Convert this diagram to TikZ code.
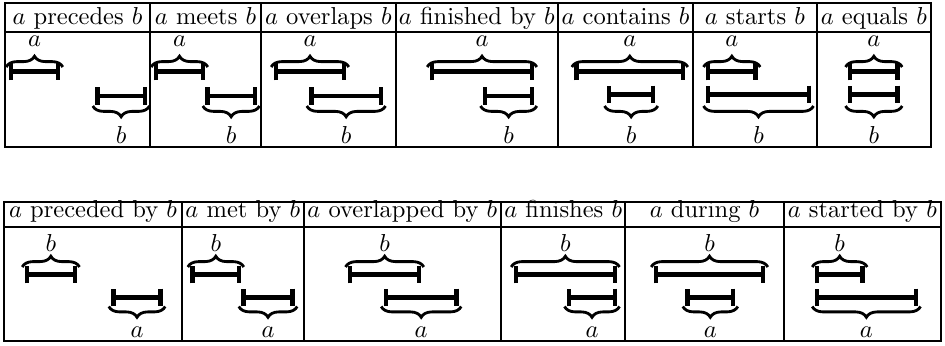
\documentclass[tikz,border=0pt]{standalone}
\usepackage{tikz}
\usetikzlibrary{arrows.meta, decorations.pathreplacing}

\begin{document}
\begin{tikzpicture}[
    x=0.408pt, y=-0.408pt,
    every node/.style={inner sep=0pt},
    grid/.style={line width=0.8pt},
    head/.style={anchor=base},
    ival/.style={line width=1.75pt, {Bar[width=7.2pt]}-{Bar[width=7.2pt]}},
    brace/.style={decorate, decoration={brace, amplitude=4.4pt}, line width=1.15pt},
    uplbl/.style={anchor=base, yshift=8.3pt},
    dnlbl/.style={anchor=base, yshift=-15.5pt},
    uplbl2/.style={anchor=base, yshift=6.25pt},
    dnlbl2/.style={anchor=base, yshift=-12.85pt},
]
\useasboundingbox (0,0) rectangle (945,346);

% === first table: a before / meets / ... / equals b ===
\draw[grid] (5,3) rectangle (931,147);
\draw[grid] (5,32.3) -- (931,32.3);
\draw[grid] (150,3) -- (150,147) (261,3) -- (261,147) (395.7,3) -- (395.7,147)
    (558,3) -- (558,147) (693,3) -- (693,147) (816.7,3) -- (816.7,147);

\node[head] (h1) at (77.5,25) {$a$ precedes $b$};
\node[head] (h2) at (205.5,25) {$a$ meets $b$};
\node[head] (h3) at (328.3,25) {$a$ overlaps $b$};
\node[head] (h4) at (476.8,25) {$a$ finished by $b$};
\node[head] (h5) at (625.5,25) {$a$ contains $b$};
\node[head] (h6) at (754.8,25) {$a$ starts $b$};
\node[head] (h7) at (873.8,25) {$a$ equals $b$};

% precedes
\draw[ival] (8.7,71.5) -- (60.3,71.5);
\draw[ival] (95.3,96) -- (147,96);
\draw[brace] (6.2,67) -- node[uplbl] (la1) {$a$} (62.8,67);
\draw[brace] (149.5,106) -- node[dnlbl] (lb1) {$b$} (92.8,106);

% meets
\draw[ival] (153.7,71.5) -- (205.3,71.5);
\draw[ival] (205.3,96) -- (257,96);
\draw[brace] (151.2,67) -- node[uplbl] (la2) {$a$} (207.8,67);
\draw[brace] (259.5,106) -- node[dnlbl] (lb2) {$b$} (202.8,106);

% overlaps
\draw[ival] (273.7,71.5) -- (346.3,71.5);
\draw[ival] (309.3,96) -- (383,96);
\draw[brace] (271.2,67) -- node[uplbl] (la3) {$a$} (348.8,67);
\draw[brace] (385.5,106) -- node[dnlbl] (lb3) {$b$} (306.8,106);

% finished by
\draw[ival] (429.7,71.5) -- (534.3,71.5);
\draw[ival] (483,96) -- (534.3,96);
\draw[brace] (427.2,67) -- node[uplbl] (la4) {$a$} (536.8,67);
\draw[brace] (536.8,106) -- node[dnlbl] (lb4) {$b$} (480.5,106);

% contains
\draw[ival] (574.3,71.5) -- (685.3,71.5);
\draw[ival] (607,94.5) -- (655.3,94.5);
\draw[brace] (571.8,67) -- node[uplbl] (la5) {$a$} (687.8,67);
\draw[brace] (657.8,106) -- node[dnlbl] (lb5) {$b$} (604.5,106);

% starts
\draw[ival] (706,71.5) -- (757.7,71.5);
\draw[ival] (706,94.5) -- (811,94.5);
\draw[brace] (703.5,67) -- node[uplbl] (la6) {$a$} (760.2,67);
\draw[brace] (813.5,106) -- node[dnlbl] (lb6) {$b$} (703.5,106);

% equals
\draw[ival] (848,71.5) -- (899.7,71.5);
\draw[ival] (848,94.5) -- (899.7,94.5);
\draw[brace] (845.5,67) -- node[uplbl] (la7) {$a$} (902.2,67);
\draw[brace] (902.2,106) -- node[dnlbl] (lb7) {$b$} (845.5,106);

% === second table: the converse relations ===
\draw[grid] (4,202) rectangle (941,341);
\draw[grid] (4,227) -- (941,227);
\draw[grid] (182,202) -- (182,341) (303.7,202) -- (303.7,341) (501,202) -- (501,341)
    (625.3,202) -- (625.3,341) (783.7,202) -- (783.7,341);

\node[head] (g1) at (93,217.5) {$a$ preceded by $b$};
\node[head] (g2) at (242.8,217.5) {$a$ met by $b$};
\node[head] (g3) at (402.3,217.5) {$a$ overlapped by $b$};
\node[head] (g4) at (563.2,217.5) {$a$ finishes $b$};
\node[head] (g5) at (704.5,217.5) {$a$ during $b$};
\node[head] (g6) at (862.3,217.5) {$a$ started by $b$};

% preceded by
\draw[ival] (24.7,274.5) -- (77,274.5);
\draw[ival] (111.3,297.5) -- (162.7,297.5);
\draw[brace] (22.2,267) -- node[uplbl2] (lb8) {$b$} (79.5,267);
\draw[brace] (165.2,306.5) -- node[dnlbl2] (la8) {$a$} (108.8,306.5);

% met by
\draw[ival] (190.3,274.5) -- (241.3,274.5);
\draw[ival] (241.3,297.5) -- (294.7,297.5);
\draw[brace] (187.8,267) -- node[uplbl2] (lb9) {$b$} (243.8,267);
\draw[brace] (297.2,306.5) -- node[dnlbl2] (la9) {$a$} (238.8,306.5);

% overlapped by
\draw[ival] (348,274.5) -- (421.3,274.5);
\draw[ival] (383.7,297.5) -- (458.7,297.5);
\draw[brace] (345.5,267) -- node[uplbl2] (lb10) {$b$} (423.8,267);
\draw[brace] (461.2,306.5) -- node[dnlbl2] (la10) {$a$} (381.2,306.5);

% finishes
\draw[ival] (513.7,274.5) -- (617,274.5);
\draw[ival] (567,297.5) -- (617,297.5);
\draw[brace] (511.2,267) -- node[uplbl2] (lb11) {$b$} (619.5,267);
\draw[brace] (619.5,306.5) -- node[dnlbl2] (la11) {$a$} (564.5,306.5);

% during
\draw[ival] (653.7,274.5) -- (765.3,274.5);
\draw[ival] (685.3,297.5) -- (735.3,297.5);
\draw[brace] (651.2,267) -- node[uplbl2] (lb12) {$b$} (767.8,267);
\draw[brace] (737.8,306.5) -- node[dnlbl2] (la12) {$a$} (682.8,306.5);

% started by
\draw[ival] (814.7,274.5) -- (864.7,274.5);
\draw[ival] (814.7,297.5) -- (918,297.5);
\draw[brace] (812.2,267) -- node[uplbl2] (lb13) {$b$} (867.2,267);
\draw[brace] (920.5,306.5) -- node[dnlbl2] (la13) {$a$} (812.2,306.5);

\end{tikzpicture}
\end{document}
